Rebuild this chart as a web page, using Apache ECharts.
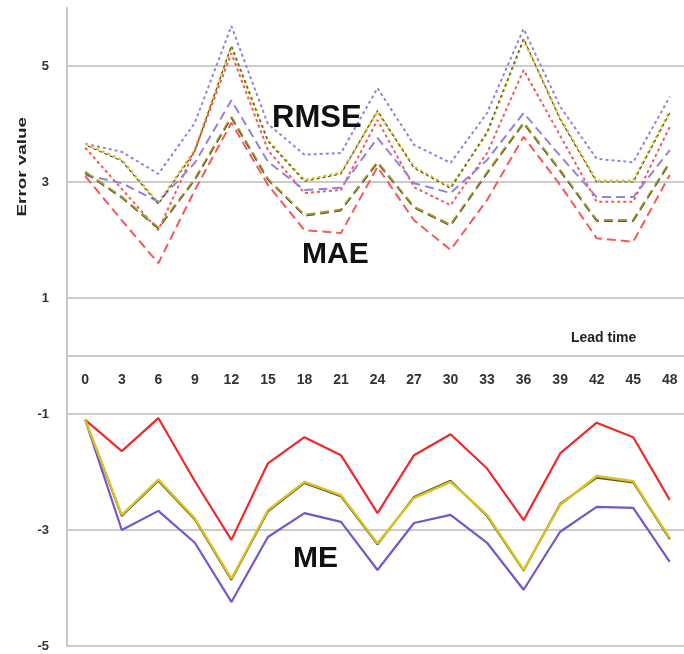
<!DOCTYPE html>
<html>
<head>
<meta charset="utf-8">
<script src="https://cdn.jsdelivr.net/npm/echarts@6/dist/echarts.min.js"></script>
<style>
  html, body { margin: 0; padding: 0; background: #fff; }
  #chart { width: 684px; height: 654px; }
</style>
</head>
<body>
<div id="chart"></div>
<script>
// lead times (hours) on the category axis
const leadTime = ['0', '3', '6', '9', '12', '15', '18', '21', '24', '27', '30', '33', '36', '39', '42', '45', '48']
const yTicks = [5, 3, 1, -1, -3, -5]

// RMSE (dotted)
const rmsePurple = [3.66, 3.52, 3.14, 4.02, 5.69, 4.00, 3.47, 3.50, 4.62, 3.64, 3.33, 4.19, 5.64, 4.30, 3.40, 3.34, 4.47]
const rmseYellow = [3.66, 3.38, 2.64, 3.55, 5.33, 3.72, 3.03, 3.16, 4.21, 3.26, 2.91, 3.84, 5.45, 4.10, 3.02, 3.02, 4.21]
const rmseBlack = [3.64, 3.36, 2.62, 3.53, 5.35, 3.70, 3.01, 3.14, 4.23, 3.24, 2.89, 3.86, 5.47, 4.08, 3.00, 3.00, 4.19]
const rmseRed = [3.59, 2.88, 2.17, 3.55, 5.22, 3.55, 2.81, 2.86, 4.07, 2.91, 2.60, 3.50, 4.93, 3.80, 2.66, 2.66, 3.95]

// MAE (dashed)
const maePurple = [3.12, 2.98, 2.66, 3.33, 4.41, 3.35, 2.86, 2.90, 3.76, 2.98, 2.81, 3.38, 4.19, 3.45, 2.74, 2.74, 3.55]
const maeYellow = [3.17, 2.74, 2.21, 3.05, 4.12, 3.05, 2.43, 2.52, 3.34, 2.57, 2.26, 3.16, 4.02, 3.20, 2.34, 2.34, 3.34]
const maeBlack = [3.15, 2.72, 2.19, 3.03, 4.10, 3.03, 2.41, 2.50, 3.32, 2.55, 2.24, 3.14, 4.00, 3.18, 2.32, 2.32, 3.32]
const maeRed = [3.10, 2.34, 1.60, 2.86, 4.02, 2.95, 2.17, 2.12, 3.26, 2.34, 1.83, 2.69, 3.78, 2.95, 2.03, 1.97, 3.12]

// ME (solid)
const meRed = [-1.10, -1.64, -1.07, -2.16, -3.17, -1.85, -1.40, -1.71, -2.71, -1.71, -1.35, -1.94, -2.83, -1.68, -1.15, -1.40, -2.48]
const meYellow = [-1.10, -2.74, -2.13, -2.80, -3.84, -2.66, -2.17, -2.40, -3.23, -2.45, -2.17, -2.74, -3.69, -2.57, -2.07, -2.16, -3.14]
const meBlack = [-1.10, -2.76, -2.15, -2.82, -3.86, -2.68, -2.19, -2.42, -3.25, -2.43, -2.15, -2.76, -3.70, -2.55, -2.10, -2.18, -3.16]
const mePurple = [-1.10, -3.00, -2.67, -3.22, -4.24, -3.12, -2.71, -2.86, -3.69, -2.88, -2.74, -3.22, -4.03, -3.03, -2.60, -2.62, -3.55]

const PURPLE = '#7656c8'
const PURPLE_LT = '#9282e0'
const YELLOW = '#d8c226'
const OLIVE = '#a69a3a'
const BLACK = '#5a5228'
const RED = '#ee2a2a'
const RED_LT = '#f45858'

const line = (name, data, color, width, type, z, offset) => ({
  name,
  type: 'line',
  data,
  symbol: 'none',
  z,
  lineStyle: { color, width, type, dashOffset: offset || 0, cap: 'butt' },
  emphasis: { disabled: true }
})

const chart = echarts.init(document.getElementById('chart'))

const option = {
  animation: false,
  grid: { left: 67, right: -4, top: 8, bottom: 8, containLabel: false, outerBoundsMode: 'none' },
  xAxis: {
    type: 'category',
    data: leadTime,
    boundaryGap: true,
    position: 'bottom',
    offset: -290, // puts the category axis on y = 0
    axisLine: { onZero: false, lineStyle: { color: '#c9c9c9', width: 2 } },
    axisTick: { show: false },
    axisLabel: {
      margin: 17,
      color: '#333',
      fontSize: 14,
      fontWeight: 'bold',
      fontFamily: 'Liberation Sans, Arial, sans-serif'
    }
  },
  yAxis: {
    type: 'value',
    min: -5,
    max: 6,
    interval: 1,
    axisLine: { show: true, lineStyle: { color: '#c9c9c9', width: 2 } },
    axisTick: { show: false },
    axisLabel: {
      margin: 18,
      color: '#333',
      fontSize: 13,
      fontWeight: 'bold',
      fontFamily: 'Liberation Sans, Arial, sans-serif',
      formatter: v => (yTicks.includes(v) ? String(v) : '')
    },
    splitLine: {
      show: true,
      lineStyle: { color: ['#cccccc', 'rgba(0,0,0,0)'], width: 2 }
    }
  },
  graphic: [
    {
      type: 'text', left: 16, top: 117, rotation: Math.PI / 2, scaleX: 1.45,
      style: { text: 'Error value', font: 'bold 13px Liberation Sans, Arial', fill: '#222' }
    },
    {
      type: 'text', left: 571, top: 331,
      style: { text: 'Lead time', font: 'bold 14px Liberation Sans, Arial', fill: '#222' }
    },
    {
      type: 'text', left: 272, top: 103, z: 20,
      style: { text: 'RMSE', font: 'bold 31px Liberation Sans, Arial', fill: '#111' }
    },
    {
      type: 'text', left: 302, top: 240, z: 20,
      style: { text: 'MAE', font: 'bold 30px Liberation Sans, Arial', fill: '#111' }
    },
    {
      type: 'text', left: 293, top: 544, z: 20,
      style: { text: 'ME', font: 'bold 30px Liberation Sans, Arial', fill: '#111' }
    }
  ],
  series: [
    line('RMSE purple', rmsePurple, PURPLE_LT, 2, [3, 3], 3),
    line('RMSE yellow', rmseYellow, YELLOW, 2.5, [3, 3], 3),
    line('RMSE black', rmseBlack, BLACK, 1.2, [3, 3], 4, 3),
    line('RMSE red', rmseRed, RED_LT, 2, [3, 3], 3),
    line('MAE purple', maePurple, PURPLE_LT, 2, [9, 5], 3),
    line('MAE yellow', maeYellow, OLIVE, 2.5, [9, 5], 3),
    line('MAE black', maeBlack, BLACK, 1, [9, 5], 4),
    line('MAE red', maeRed, RED_LT, 2, [9, 5], 3),
    line('ME red', meRed, RED, 2.2, 'solid', 3),
    line('ME black', meBlack, BLACK, 2, 'solid', 3),
    line('ME yellow', meYellow, YELLOW, 2.4, 'solid', 4),
    line('ME purple', mePurple, PURPLE, 2.2, 'solid', 3)
  ]
}

chart.setOption(option)
</script>
</body>
</html>
